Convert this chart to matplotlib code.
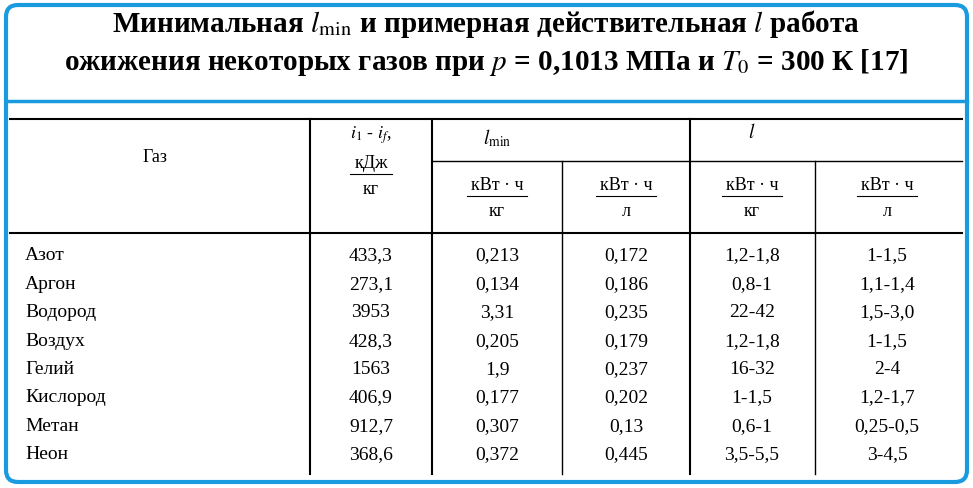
import matplotlib
matplotlib.use("Agg")
import matplotlib.pyplot as plt
from matplotlib.patches import FancyBboxPatch

plt.rcParams['font.family'] = ['Liberation Serif', 'DejaVu Serif']
plt.rcParams['mathtext.fontset'] = 'stix'

gases = ["Азот", "Аргон", "Водород", "Воздух", "Гелий", "Кислород", "Метан", "Неон"]
dh = ["433,3", "273,1", "3953", "428,3", "1563", "406,9", "912,7", "368,6"]
lmin_kg = ["0,213", "0,134", "3,31", "0,205", "1,9", "0,177", "0,307", "0,372"]
lmin_l = ["0,172", "0,186", "0,235", "0,179", "0,237", "0,202", "0,13", "0,445"]
l_kg = ["1,2-1,8", "0,8-1", "22-42", "1,2-1,8", "16-32", "1-1,5", "0,6-1", "3,5-5,5"]
l_l = ["1-1,5", "1,1-1,4", "1,5-3,0", "1-1,5", "2-4", "1,2-1,7", "0,25-0,5", "3-4,5"]

fig = plt.figure(figsize=(9.73, 4.89), dpi=100)
ax = fig.add_axes([0, 0, 1, 1])
ax.set_xlim(0, 973)
ax.set_ylim(489, 0)
ax.axis('off')

blue = '#1a9be0'
ax.add_patch(FancyBboxPatch((6, 6), 961, 477, boxstyle="round,pad=0,rounding_size=12",
                            fc='white', ec=blue, lw=3))
ax.plot([6, 967], [102, 102], color=blue, lw=2.5)

ax.text(486, 24, "Минимальная $\\mathbf{\\mathit{l}}_{\\min}$ и примерная действительная $\\mathbf{\\mathit{l}}$ работа",
        ha='center', va='center', fontsize=21, fontweight='bold')
ax.text(486, 62, "ожижения некоторых газов при $\\mathbf{\\mathit{p}}$ = 0,1013 МПа и $\\mathbf{\\mathit{T}}_0$ = 300 К [17]",
        ha='center', va='center', fontsize=21, fontweight='bold')

k = dict(color='black', lw=1.5)
ax.plot([10, 962], [120, 120], **k)
ax.plot([10, 962], [234, 234], **k)
ax.plot([432, 962], [162, 162], color='black', lw=1)
for x in [310, 432, 690]:
    ax.plot([x, x], [120, 475], **k)
for x in [562, 815]:
    ax.plot([x, x], [162, 475], color='black', lw=1)

fs = 13
ax.text(155, 158, "Газ", ha='center', va='center', fontsize=fs)
ax.text(371, 135, "$i_1$ - $i_f$,", ha='center', va='center', fontsize=fs)
ax.text(371, 164, "кДж", ha='center', va='center', fontsize=fs)
ax.plot([350, 392], [175, 175], color='black', lw=0.8)
ax.text(371, 190, "кг", ha='center', va='center', fontsize=fs)
ax.text(497, 138, "$l_{\\min}$", ha='center', va='center', fontsize=fs + 1)
ax.text(752, 132, "$l$", ha='center', va='center', fontsize=fs + 1)
for cx, den in [(497, "кг"), (626, "л"), (752, "кг"), (887, "л")]:
    ax.text(cx, 186, "кВт · ч", ha='center', va='center', fontsize=fs)
    ax.plot([cx - 30, cx + 30], [197, 197], color='black', lw=0.8)
    ax.text(cx, 212, den, ha='center', va='center', fontsize=fs)

fs2 = 14
for i in range(len(gases)):
    y = 256 + i * 28.4
    ax.text(25, y, gases[i], ha='left', va='center', fontsize=fs2)
    ax.text(371, y, dh[i], ha='center', va='center', fontsize=fs2)
    ax.text(497, y, lmin_kg[i], ha='center', va='center', fontsize=fs2)
    ax.text(626, y, lmin_l[i], ha='center', va='center', fontsize=fs2)
    ax.text(752, y, l_kg[i], ha='center', va='center', fontsize=fs2)
    ax.text(887, y, l_l[i], ha='center', va='center', fontsize=fs2)

fig.savefig("out.png", dpi=100)
